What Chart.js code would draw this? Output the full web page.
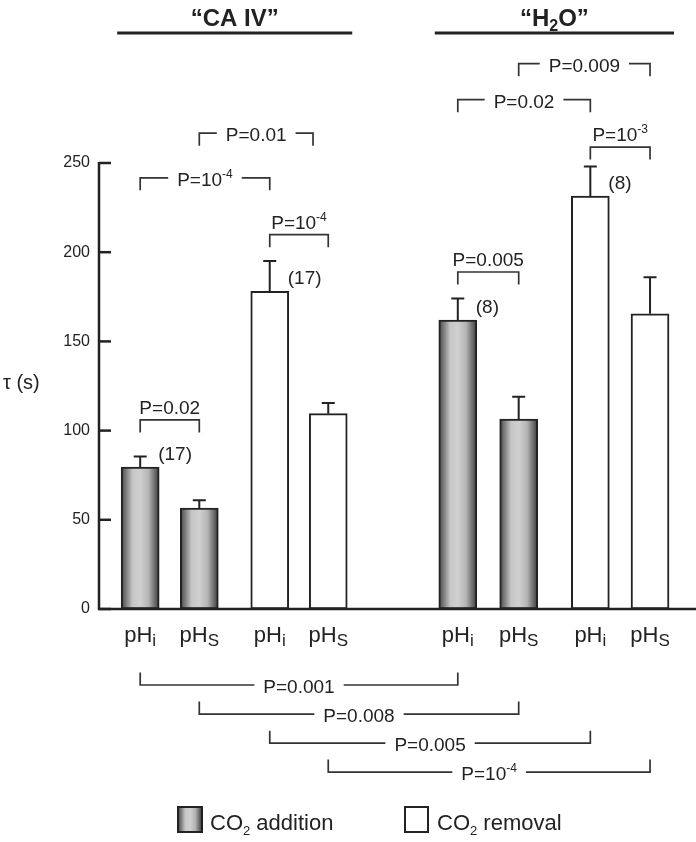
<!DOCTYPE html>
<html>
<head>
<meta charset="utf-8">
<script src="https://cdn.jsdelivr.net/npm/chart.js@4.4.1/dist/chart.umd.min.js"></script>
<style>
  html, body { margin: 0; padding: 0; background: #fff; }
</style>
</head>
<body>
<canvas id="grafico" width="696" height="842"></canvas>
<script>

// dados
var subscritos = ['i', 'S', 'i', 'S', 'i', 'S', 'i', 'S'];
var posicoesX = [0.69, 1.68, 2.86, 3.84, 6.01, 7.03, 8.23, 9.23];
var tratamentos = ['adicao', 'adicao', 'remocao', 'remocao', 'adicao', 'adicao', 'remocao', 'remocao'];
var tau = [79.5, 56.5, 178, 109.5, 162, 106.5, 231.5, 165.5];
var erroPadrao = [6, 4.5, 17, 6, 12, 12.5, 16.5, 20.5];
var nAmostras = ['(17)', '', '(17)', '', '(8)', '', '(8)', ''];
var ticksY = [0, 50, 100, 150, 200, 250];

var grupos = [
	[{t: '“CA IV”', tam: 24}],
	[{t: '“H', tam: 24}, {t: '2', tam: 16, dy: 5}, {t: 'O”', tam: 24}]
];
var gruposDe = [0, 4];
var gruposAte = [3, 7];

// comparacoes (indices das barras, nivel em unidades de tau)
var comparacoes = [
	{de: 0, ate: 1, nivel: 106, p: 'P=0.02', estilo: 'acima'},
	{de: 2, ate: 3, nivel: 209.8, p: 'P=10', exp: '-4', estilo: 'acima'},
	{de: 0, ate: 2, nivel: 241.7, p: 'P=10', exp: '-4', estilo: 'linha'},
	{de: 1, ate: 2.74, nivel: 266.7, p: 'P=0.01', estilo: 'linha'},
	{de: 4, ate: 5, nivel: 188.9, p: 'P=0.005', estilo: 'acima'},
	{de: 6, ate: 7, nivel: 258.9, p: 'P=10', exp: '-3', estilo: 'acima'},
	{de: 4, ate: 6, nivel: 285.5, p: 'P=0.02', estilo: 'linha'},
	{de: 5, ate: 7, nivel: 305.7, p: 'P=0.009', estilo: 'linha'},
	{de: 0, ate: 4, nivel: -42.6, p: 'P=0.001', estilo: 'baixo'},
	{de: 1, ate: 5, nivel: -58.9, p: 'P=0.008', estilo: 'baixo'},
	{de: 2, ate: 6, nivel: -75.2, p: 'P=0.005', estilo: 'baixo'},
	{de: 3, ate: 7, nivel: -91.4, p: 'P=10', exp: '-4', estilo: 'baixo'}
];

var COR = '#222';
var FONTE = '"Liberation Sans", Arial, sans-serif';
var LARGURA_BARRA = 38;

var gradienteCinza = function(ctx, x0, x1){
	var g = ctx.createLinearGradient(x0, 0, x1, 0);
	g.addColorStop(0, '#454545');
	g.addColorStop(0.3, '#c6c6c6');
	g.addColorStop(0.5, '#d0d0d0');
	g.addColorStop(0.72, '#b4b4b4');
	g.addColorStop(1, '#3a3a3a');
	return g;
};

var medir = function(ctx, partes, negrito){
	var total = 0;
	partes.forEach(function(p){
		ctx.font = (negrito ? 'bold ' : '') + p.tam + 'px ' + FONTE;
		p.w = ctx.measureText(p.t).width;
		total += p.w;
	});
	return total;
};

var escrever = function(ctx, partes, x, y, alinhar, negrito){
	var total = medir(ctx, partes, negrito);
	var inicio = x;
	if(alinhar === 'center') inicio = x - total / 2;
	if(alinhar === 'right') inicio = x - total;
	ctx.fillStyle = COR;
	ctx.textAlign = 'left';
	ctx.textBaseline = 'alphabetic';
	partes.forEach(function(p){
		ctx.font = (negrito ? 'bold ' : '') + p.tam + 'px ' + FONTE;
		ctx.fillText(p.t, inicio, y + (p.dy || 0));
		inicio += p.w;
	});
	return total;
};

var montarSerie = function(tipo){
	var serie = [];
	for (i = 0; i < tau.length; i++) {
		if(tratamentos[i] === tipo){
			serie.push({x: posicoesX[i], y: tau[i]});
		}
	}
	return serie;
};

var desenhoExtra = {
	id: 'desenhoExtra',
	afterDatasetsDraw: function(chart){
		var ctx = chart.ctx;
		var area = chart.chartArea;
		var escalaX = chart.scales.x;
		var escalaY = chart.scales.y;

		var xBarra = function(indice){
			var lo = Math.floor(indice), hi = Math.ceil(indice);
			var pos = posicoesX[lo] + (posicoesX[hi] - posicoesX[lo]) * (indice - lo);
			return escalaX.getPixelForValue(pos);
		};

		ctx.save();
		ctx.strokeStyle = COR;
		ctx.lineCap = 'butt';

		// eixos
		ctx.lineWidth = 2.5;
		ctx.beginPath();
		ctx.moveTo(area.left, escalaY.getPixelForValue(250) - 1);
		ctx.lineTo(area.left, area.bottom);
		ctx.lineTo(area.right, area.bottom);
		ctx.stroke();
		ticksY.forEach(function(v){
			var y = escalaY.getPixelForValue(v);
			ctx.beginPath();
			ctx.moveTo(area.left, y);
			ctx.lineTo(area.left + 12, y);
			ctx.stroke();
		});

		// barras de erro e n
		ctx.lineWidth = 2;
		for (i = 0; i < tau.length; i++) {
			var cx = xBarra(i);
			var yTopo = escalaY.getPixelForValue(tau[i]);
			var yErro = escalaY.getPixelForValue(tau[i] + erroPadrao[i]);
			ctx.beginPath();
			ctx.moveTo(cx, yTopo);
			ctx.lineTo(cx, yErro);
			ctx.moveTo(cx - 6.5, yErro);
			ctx.lineTo(cx + 6.5, yErro);
			ctx.stroke();
			if(nAmostras[i]){
				escrever(ctx, [{t: nAmostras[i], tam: 19}], cx + 18, yTopo - 14 + 7, 'left');
			}
			escrever(ctx, [{t: 'pH', tam: 22}, {t: subscritos[i], tam: 17, dy: 4}], cx, 642, 'center');
		}

		// comparacoes
		ctx.lineWidth = 1.7;
		ctx.strokeStyle = '#333';
		comparacoes.forEach(function(c){
			var x1 = xBarra(c.de), x2 = xBarra(c.ate);
			var y = escalaY.getPixelForValue(c.nivel);
			var partes = [{t: c.p, tam: 19}];
			if(c.exp) partes.push({t: c.exp, tam: 12, dy: -8});
			var largura = medir(ctx, partes);
			var meio = (x1 + x2) / 2;
			ctx.beginPath();
			if(c.estilo === 'acima'){
				ctx.moveTo(x1, y + 12.5);
				ctx.lineTo(x1, y);
				ctx.lineTo(x2, y);
				ctx.lineTo(x2, y + 12.5);
				ctx.stroke();
				escrever(ctx, partes, meio, y - 6, 'center');
			} else {
				var dir = c.estilo === 'baixo' ? -12.5 : 12.5;
				var g = largura / 2 + 9;
				ctx.moveTo(x1, y + dir);
				ctx.lineTo(x1, y);
				ctx.lineTo(meio - g, y);
				ctx.moveTo(meio + g, y);
				ctx.lineTo(x2, y);
				ctx.lineTo(x2, y + dir);
				ctx.stroke();
				escrever(ctx, partes, meio, y + 8, 'center');
			}
		});

		// titulos dos grupos
		ctx.strokeStyle = COR;
		ctx.lineWidth = 3;
		grupos.forEach(function(partes, k){
			var xa = xBarra(gruposDe[k]) - 23;
			var xb = xBarra(gruposAte[k]) + 24;
			ctx.beginPath();
			ctx.moveTo(xa, 33);
			ctx.lineTo(xb, 33);
			ctx.stroke();
			escrever(ctx, partes, (xa + xb) / 2, 26, 'center', true);
		});

		// rotulo do eixo y
		escrever(ctx, [{t: 'τ (s)', tam: 20}], 3, 389, 'left');

		// legenda
		ctx.lineWidth = 2;
		ctx.fillStyle = gradienteCinza(ctx, 178, 202);
		ctx.fillRect(178, 807, 24, 25);
		ctx.strokeRect(178, 807, 24, 25);
		escrever(ctx, [{t: 'CO', tam: 22}, {t: '2', tam: 13, dy: 5}, {t: ' addition', tam: 22}], 210, 830, 'left');
		ctx.fillStyle = '#fff';
		ctx.fillRect(405, 807, 23, 25);
		ctx.strokeRect(405, 807, 23, 25);
		escrever(ctx, [{t: 'CO', tam: 22}, {t: '2', tam: 13, dy: 5}, {t: ' removal', tam: 22}], 437, 830, 'left');

		ctx.restore();
	}
};

var corAdicao = function(contexto){
	var chart = contexto.chart;
	if(!chart.chartArea || !contexto.raw) return '#bbb';
	var cx = chart.scales.x.getPixelForValue(contexto.raw.x);
	return gradienteCinza(chart.ctx, cx - LARGURA_BARRA / 2, cx + LARGURA_BARRA / 2);
};

var grafico = new Chart(document.getElementById('grafico'), {
	type: 'bar',
	data: {
		datasets: [{
			label: 'CO2 addition',
			data: montarSerie('adicao'),
			backgroundColor: corAdicao,
			borderColor: COR,
			borderWidth: 2,
			borderSkipped: false,
			barThickness: LARGURA_BARRA,
			grouped: false
		}, {
			label: 'CO2 removal',
			data: montarSerie('remocao'),
			backgroundColor: '#fff',
			borderColor: COR,
			borderWidth: 2,
			borderSkipped: false,
			barThickness: LARGURA_BARRA,
			grouped: false
		}]
	},
	options: {
		responsive: false,
		animation: false,
		devicePixelRatio: 1,
		layout: { padding: { top: 163, bottom: 233, left: 0, right: 0 } },
		plugins: {
			legend: { display: false },
			title: { display: false },
			tooltip: { enabled: false }
		},
		scales: {
			x: {
				type: 'linear',
				min: 0,
				max: 10,
				offset: false,
				display: false
			},
			y: {
				min: 0,
				max: 250,
				afterFit: function(escala){ escala.width = 99; },
				afterBuildTicks: function(escala){
					escala.ticks = ticksY.map(function(v){ return {value: v}; });
				},
				grid: { display: false, drawTicks: false },
				border: { display: false },
				ticks: {
					padding: 9,
					color: COR,
					font: { family: FONTE, size: 16 }
				}
			}
		}
	},
	plugins: [desenhoExtra]
});

</script>
</body>
</html>
